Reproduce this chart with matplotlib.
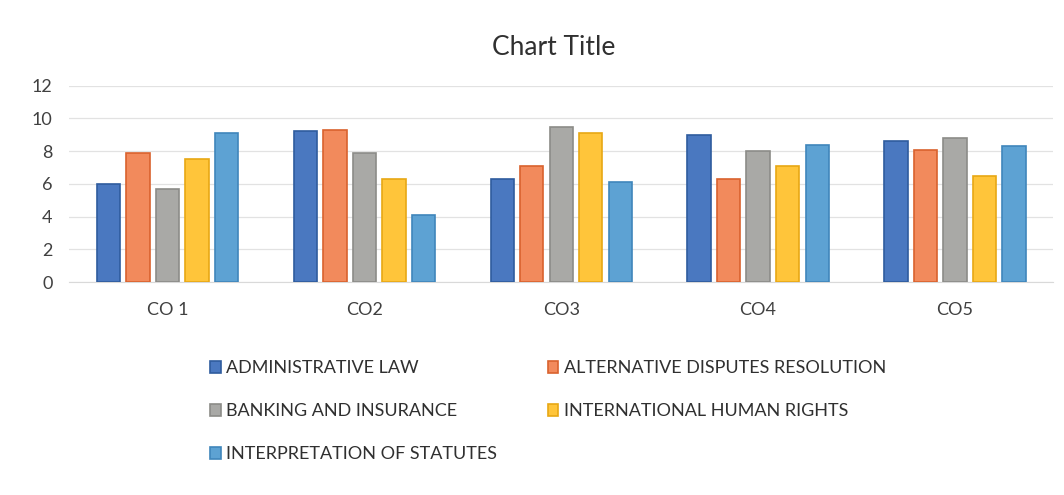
import numpy as np
import matplotlib.pyplot as plt

# значения
categories = ['CO 1', 'CO2', 'CO3', 'CO4', 'CO5']
admin_law = [6.0, 9.2, 6.3, 9.0, 8.6]
adr = [7.9, 9.3, 7.1, 6.3, 8.1]
banking = [5.7, 7.9, 9.5, 8.0, 8.8]
human_rights = [7.5, 6.3, 9.1, 7.1, 6.5]
interpretation = [9.1, 4.1, 6.1, 8.4, 8.3]

series_names = ['ADMINISTRATIVE LAW', 'ALTERNATIVE DISPUTES RESOLUTION',
                'BANKING AND INSURANCE', 'INTERNATIONAL HUMAN RIGHTS',
                'INTERPRETATION OF STATUTES']
series = [admin_law, adr, banking, human_rights, interpretation]
colors = ['#4A78C0', '#F28A5C', '#A9A9A6', '#FFC53A', '#5DA2D3']
edges = ['#2F5C9E', '#D9622E', '#8C8C88', '#E8A814', '#3F86BB']

plt.rcParams['font.family'] = ['Lato', 'DejaVu Sans']

fig = plt.figure(figsize=(10.64, 4.95), dpi=100)
ax = fig.add_axes([0.065, 0.43, 0.925, 0.397])

x = np.arange(len(categories))
slot = 0.15
width = 0.118
handles = []
for i, (vals, name) in enumerate(zip(series, series_names)):
    b = ax.bar(x + (i - 2) * slot, vals, width, color=colors[i],
               edgecolor=edges[i], linewidth=1.2, label=name, zorder=3)
    handles.append(b)

ax.set_ylim(0, 12)
ax.set_xlim(-0.5, 4.5)
ax.set_yticks(range(0, 13, 2))
ax.set_xticks(x)
ax.set_xticklabels(categories)
ax.tick_params(axis='both', length=0, labelsize=13, colors='#404040')
ax.tick_params(axis='x', pad=14)
ax.tick_params(axis='y', pad=12)
ax.grid(axis='y', color='#E2E2E2', linewidth=0.9, zorder=0)
for s in ['top', 'right', 'left']:
    ax.spines[s].set_visible(False)
ax.spines['bottom'].set_color('#D9D9D9')

fig.text(0.52, 0.905, 'Chart Title', ha='center', va='center',
         fontsize=19, color='#303030')

# порядок для заполнения легенды по строкам
order = [0, 2, 4, 1, 3]
fig.legend([handles[k] for k in order], [series_names[k] for k in order],
           ncol=2, loc='upper center', bbox_to_anchor=(0.515, 0.305),
           frameon=False, fontsize=13, handlelength=0.6, handleheight=0.7,
           handletextpad=0.3, columnspacing=2.8, labelspacing=1.5,
           labelcolor='#303030')

fig.savefig('out.png', dpi=100, facecolor='white')
